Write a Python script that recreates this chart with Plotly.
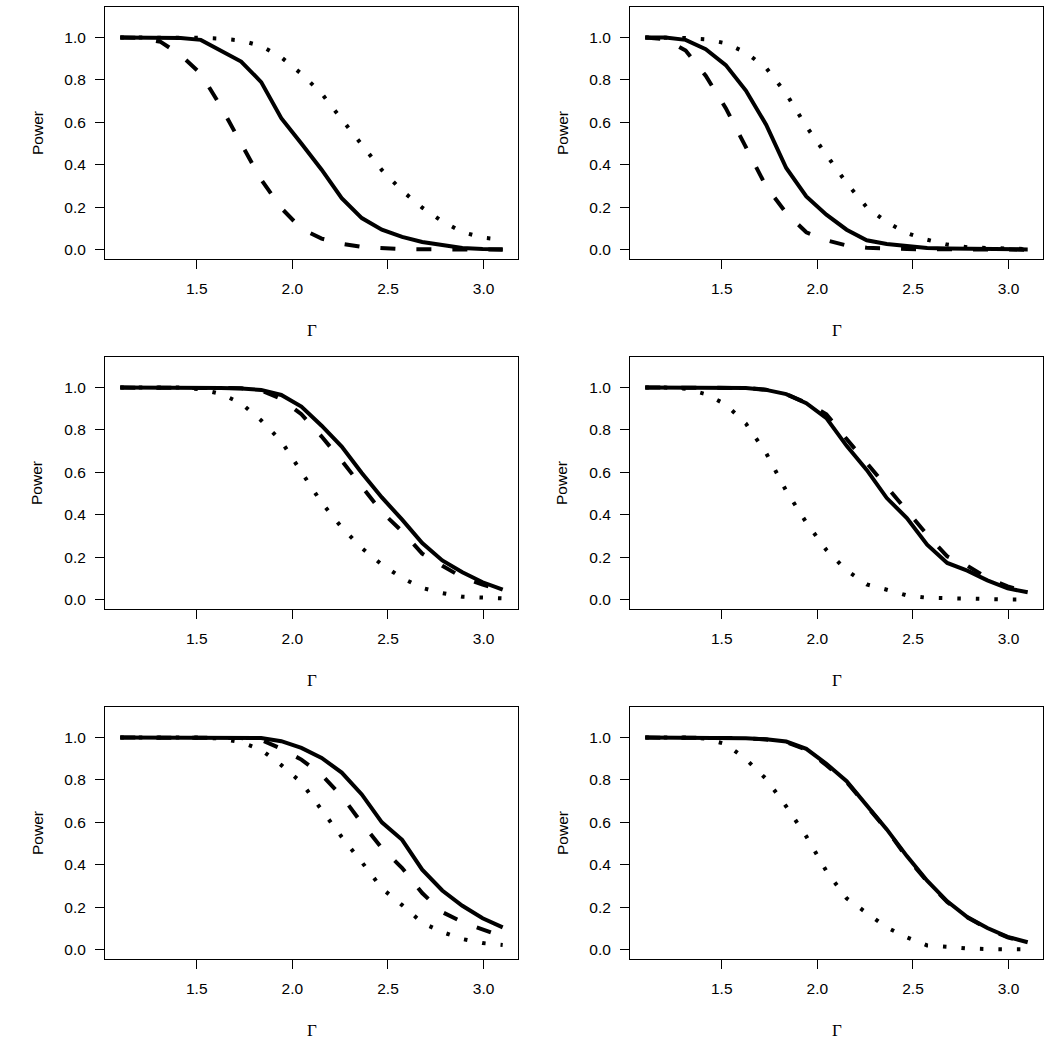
import plotly.graph_objects as go

gamma = [1.100, 1.205, 1.311, 1.416, 1.521, 1.626, 1.732, 1.837, 1.942, 2.047,
         2.153, 2.258, 2.363, 2.468, 2.574, 2.679, 2.784, 2.889, 2.995, 3.100]

p1_solid = [1.0, 1.0, 1.0, 0.998, 0.989, 0.94, 0.887, 0.79, 0.62, 0.50, 0.377, 0.243, 0.149, 0.094, 0.06, 0.036, 0.02, 0.008, 0.003, 0.002]
p1_dash = [1.0, 0.998, 0.98, 0.917, 0.83, 0.675, 0.50, 0.33, 0.196, 0.099, 0.052, 0.028, 0.013, 0.006, 0.003, 0.002, 0.001, 0.001, 0.0, 0.0]
p1_dot = [1.0, 1.0, 1.0, 1.0, 0.999, 0.995, 0.986, 0.96, 0.907, 0.829, 0.736, 0.615, 0.493, 0.375, 0.278, 0.198, 0.133, 0.083, 0.057, 0.047]

p2_solid = [1.0, 1.0, 0.989, 0.945, 0.87, 0.75, 0.589, 0.385, 0.251, 0.165, 0.094, 0.044, 0.027, 0.016, 0.008, 0.005, 0.003, 0.002, 0.001, 0.001]
p2_dash = [1.0, 0.992, 0.939, 0.82, 0.667, 0.479, 0.298, 0.173, 0.082, 0.044, 0.02, 0.009, 0.005, 0.003, 0.002, 0.001, 0.001, 0.0, 0.0, 0.0]
p2_dot = [1.0, 1.0, 0.998, 0.992, 0.973, 0.929, 0.857, 0.735, 0.581, 0.447, 0.314, 0.2, 0.13, 0.078, 0.047, 0.024, 0.011, 0.008, 0.005, 0.003]

p3_solid = [1.0, 1.0, 1.0, 1.0, 1.0, 0.998, 0.995, 0.989, 0.965, 0.91, 0.82, 0.722, 0.597, 0.482, 0.377, 0.267, 0.185, 0.129, 0.082, 0.047]
p3_dash = [1.0, 1.0, 1.0, 1.0, 1.0, 0.999, 0.997, 0.986, 0.947, 0.874, 0.769, 0.655, 0.537, 0.413, 0.322, 0.217, 0.16, 0.105, 0.071, 0.044]
p3_dot = [1.0, 1.0, 1.0, 1.0, 0.992, 0.97, 0.926, 0.845, 0.747, 0.604, 0.457, 0.341, 0.243, 0.165, 0.102, 0.055, 0.031, 0.014, 0.008, 0.006]

p4_solid = [1.0, 1.0, 1.0, 1.0, 1.0, 0.998, 0.989, 0.969, 0.926, 0.856, 0.725, 0.612, 0.479, 0.385, 0.259, 0.173, 0.137, 0.091, 0.053, 0.035]
p4_dash = [1.0, 1.0, 1.0, 1.0, 1.0, 0.998, 0.99, 0.969, 0.928, 0.874, 0.757, 0.644, 0.526, 0.419, 0.306, 0.204, 0.16, 0.102, 0.063, 0.036]
p4_dot = [1.0, 1.0, 0.994, 0.969, 0.92, 0.83, 0.691, 0.513, 0.364, 0.234, 0.138, 0.072, 0.047, 0.02, 0.009, 0.006, 0.003, 0.002, 0.001, 0.001]

p5_solid = [1.0, 1.0, 1.0, 1.0, 1.0, 1.0, 1.0, 0.998, 0.983, 0.951, 0.904, 0.835, 0.732, 0.6, 0.518, 0.377, 0.279, 0.207, 0.148, 0.105]
p5_dash = [1.0, 1.0, 1.0, 1.0, 1.0, 1.0, 0.998, 0.989, 0.947, 0.896, 0.824, 0.724, 0.597, 0.479, 0.385, 0.267, 0.177, 0.13, 0.094, 0.061]
p5_dot = [1.0, 1.0, 1.0, 1.0, 1.0, 0.995, 0.978, 0.942, 0.87, 0.788, 0.659, 0.531, 0.413, 0.289, 0.21, 0.127, 0.083, 0.05, 0.031, 0.022]

p6_solid = [1.0, 1.0, 1.0, 1.0, 1.0, 0.997, 0.992, 0.981, 0.947, 0.876, 0.794, 0.684, 0.567, 0.441, 0.325, 0.228, 0.154, 0.102, 0.06, 0.035]
p6_dash = [1.0, 1.0, 1.0, 1.0, 1.0, 0.997, 0.991, 0.979, 0.943, 0.87, 0.79, 0.68, 0.565, 0.435, 0.322, 0.225, 0.152, 0.1, 0.058, 0.034]
p6_dot = [1.0, 1.0, 1.0, 0.995, 0.969, 0.898, 0.805, 0.675, 0.534, 0.37, 0.242, 0.173, 0.105, 0.058, 0.02, 0.014, 0.006, 0.003, 0.002, 0.001]

panels = [
    (p1_solid, p1_dash, p1_dot),
    (p2_solid, p2_dash, p2_dot),
    (p3_solid, p3_dash, p3_dot),
    (p4_solid, p4_dash, p4_dot),
    (p5_solid, p5_dash, p5_dot),
    (p6_solid, p6_dash, p6_dot),
]

x_ticks = [1.5, 2.0, 2.5, 3.0]
x_ticktext = ["1.5", "2.0", "2.5", "3.0"]
y_ticks = [0.0, 0.2, 0.4, 0.6, 0.8, 1.0]
y_ticktext = ["0.0", "0.2", "0.4", "0.6", "0.8", "1.0"]
x_title = "Γ"
y_title = "Power"

W = H = 1050
# panel boxes in pixels (left, right, top, bottom)
col_px = [(105, 518), (630, 1043)]
row_px = [(7, 259), (357, 609), (707, 959)]

FONT = "Liberation Sans, Arial, sans-serif"
fig = go.Figure()
layout = {}
annotations = []

styles = [
    dict(color="black", width=4),
    dict(color="black", width=4, dash="15px,21px"),
    dict(color="black", width=4, dash="3.5px,15px"),
]

for i, series in enumerate(panels):
    r, c = divmod(i, 2)
    n = i + 1
    xa = "x" if n == 1 else f"x{n}"
    ya = "y" if n == 1 else f"y{n}"
    for vals, st in zip(series, styles):
        fig.add_trace(go.Scatter(x=gamma, y=vals, mode="lines", line=st,
                                 xaxis=xa, yaxis=ya, showlegend=False,
                                 hoverinfo="skip"))
    l, rr = col_px[c]
    t, b = row_px[r]
    common = dict(showline=True, mirror=True, linecolor="black", linewidth=1,
                  showgrid=False, zeroline=False, ticks="outside", ticklen=9,
                  tickwidth=1, tickcolor="black",
                  tickfont=dict(family=FONT, size=15.5, color="black"))
    layout["xaxis" if n == 1 else f"xaxis{n}"] = dict(
        domain=[l / W, rr / W], range=[1.02, 3.18], anchor=ya,
        tickvals=x_ticks, ticktext=x_ticktext, ticklabelstandoff=6, **common)
    layout["yaxis" if n == 1 else f"yaxis{n}"] = dict(
        domain=[1 - b / H, 1 - t / H], range=[-0.044, 1.144], anchor=xa,
        tickvals=y_ticks, ticktext=y_ticktext, ticklabelstandoff=6, **common)
    cx = (l + rr) / 2
    cy = (t + b) / 2
    annotations.append(dict(text=x_title, x=cx / W, y=1 - (b + 71) / H,
                            xref="paper", yref="paper", showarrow=False,
                            xanchor="center", yanchor="middle",
                            font=dict(family="Liberation Serif, DejaVu Serif, serif", size=17, color="black")))
    annotations.append(dict(text=y_title, x=(l - 68) / W, y=1 - cy / H,
                            xref="paper", yref="paper", showarrow=False,
                            textangle=-90, xanchor="center", yanchor="middle",
                            font=dict(family=FONT, size=15.5, color="black")))

fig.update_layout(width=W, height=H, margin=dict(l=0, r=0, t=0, b=0),
                  paper_bgcolor="white", plot_bgcolor="white",
                  annotations=annotations, **layout)
fig.write_html("out.html")
